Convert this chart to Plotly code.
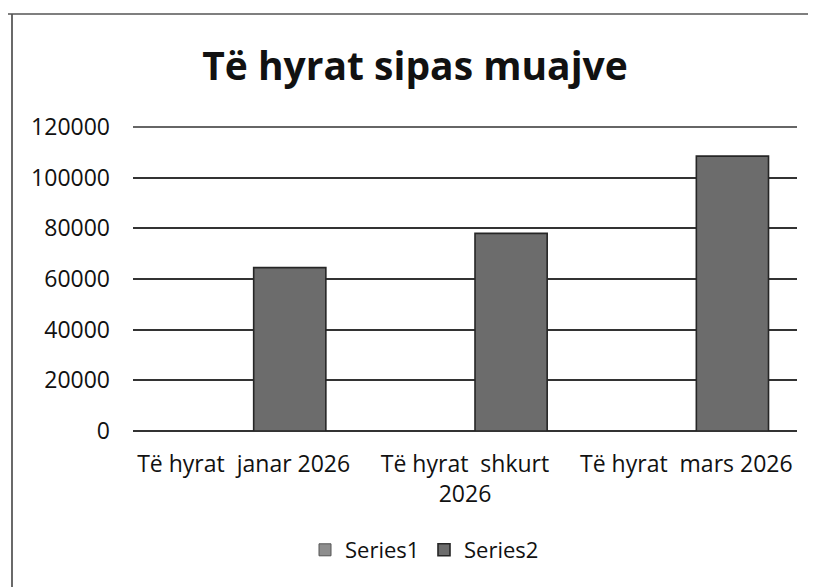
import plotly.graph_objects as go

categories = ["Të hyrat\u00a0 janar 2026", "Të hyrat\u00a0 shkurt<br>2026", "Të hyrat\u00a0 mars 2026"]
series1 = [None, None, None]
series2 = [64500, 78000, 108500]
y_ticks = [0, 20000, 40000, 60000, 80000, 100000, 120000]
title_text = "Të hyrat sipas muajve"

# page body has an 8px margin; work in screen px and subtract it
OFF = 8
W, H = 816 - OFF, 587 - OFF
L, R, T, B = 133 - OFF, 797 - OFF, 127 - OFF, 431 - OFF  # plot area in figure px

def px_x(px):
    return (px - OFF - L) / (R - L)

def px_y(py):
    return (B - (py - OFF)) / (B - T)

font_family = "Open Sans, Lato, sans-serif"

fig = go.Figure()
fig.add_trace(go.Bar(name="Series1", x=categories, y=series1,
                     marker=dict(color="#8e8e8e", line=dict(color="#555555", width=1))))
fig.add_trace(go.Bar(name="Series2", x=categories, y=series2,
                     marker=dict(color="#6c6c6c", line=dict(color="#262626", width=1.6))))

line_col = "#333333"
y_max = y_ticks[-1]
shapes = [
    dict(type="line", xref="paper", yref="paper", x0=px_x(12), x1=px_x(12), y0=px_y(600), y1=px_y(14),
         line=dict(color="#444444", width=1.6)),
    dict(type="line", xref="paper", yref="paper", x0=px_x(6), x1=px_x(830), y0=px_y(14), y1=px_y(14),
         line=dict(color="#555555", width=1.4)),
    # top gridline (plotly skips the grid line at the range edge); the axis top == y_max
    dict(type="line", xref="paper", yref="paper", x0=0, x1=1, y0=1, y1=1,
         line=dict(color=line_col, width=1.6), layer="below"),
]

fig.update_layout(
    width=W, height=H,
    margin=dict(l=L, r=W - R, t=T, b=H - B, pad=0),
    paper_bgcolor="white", plot_bgcolor="white",
    barmode="group", bargap=0.167, bargroupgap=0.217,
    title=dict(text="<b>" + title_text + "</b>", x=(415 - OFF) / W, xanchor="center",
               y=1 - (66 - OFF) / H, yanchor="middle", yref="container",
               font=dict(family=font_family, size=39, color="#111111")),
    font=dict(family=font_family, size=23, color="#111111"),
    showlegend=True,
    legend=dict(orientation="h", x=px_x(424), xanchor="center", y=px_y(550), yanchor="middle",
                font=dict(size=22, color="#111111"), itemwidth=30, traceorder="normal",
                entrywidth=74, entrywidthmode="pixels",
                bgcolor="rgba(0,0,0,0)"),
    shapes=shapes,
)
fig.update_yaxes(range=[0, y_max], tickvals=y_ticks, tickformat="d",
                 showgrid=True, gridcolor=line_col, gridwidth=1.6,
                 zeroline=True, zerolinecolor=line_col, zerolinewidth=1.6,
                 showline=False, ticks="", ticklabelstandoff=22, automargin=False,
                 tickfont=dict(size=23, color="#111111"))
fig.update_xaxes(showline=False, ticks="", showgrid=False, ticklabelstandoff=17, automargin=False,
                 tickfont=dict(size=23, color="#111111"))

fig.write_html("out.html")
